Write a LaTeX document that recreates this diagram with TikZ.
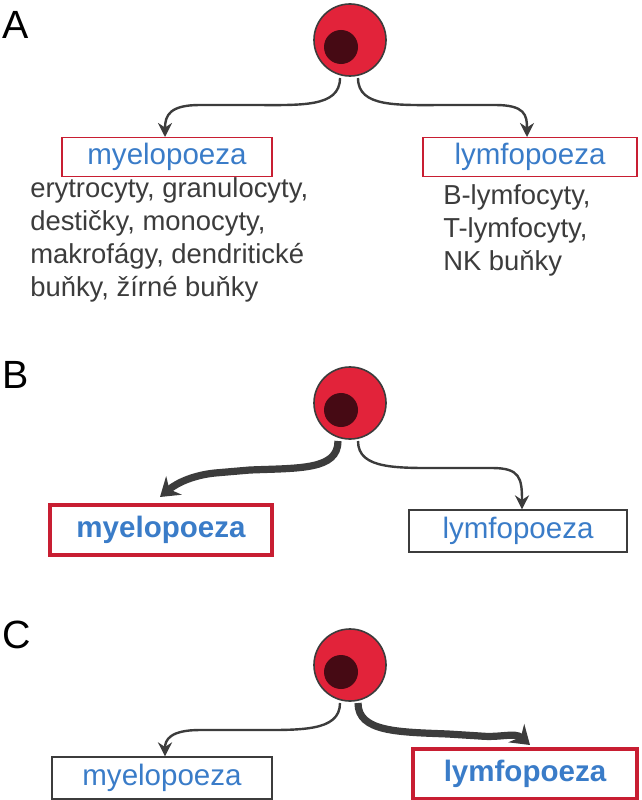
\documentclass[tikz,border=0pt]{standalone}
\usepackage{fontspec}
\setmainfont{Liberation Sans}
\usetikzlibrary{arrows.meta, calc}
\definecolor{cellred}{RGB}{226, 35, 58}
\definecolor{nucleus}{RGB}{70, 10, 20}
\definecolor{boxred}{RGB}{200, 30, 50}
\definecolor{textblue}{RGB}{58, 124, 200}
\definecolor{textgray}{RGB}{60, 60, 60}
\tikzstyle{thin arrow} = [line width=0.6mm, draw=textgray, -{Stealth[length=3.5mm,width=3.5mm]}]
\tikzstyle{thick arrow} = [line width=1.8mm, draw=textgray, -{Stealth[length=4.5mm,width=6mm]}]
\tikzstyle{plainbox} = [draw=textgray, line width=0.3mm, text=textblue, font=\fontsize{21}{24}\selectfont, minimum height=1.05cm, inner sep=4pt]
\tikzstyle{redbox} = [draw=boxred, line width=0.3mm, text=textblue, font=\fontsize{21}{24}\selectfont, minimum height=0.9cm, inner sep=4pt]
\tikzstyle{boldbox} = [draw=boxred, line width=1.2mm, text=textblue, font=\fontsize{21}{24}\selectfont\bfseries, minimum height=1.25cm, inner sep=5pt]
\tikzstyle{celltype} = [align=left, text=textgray, font=\fontsize{19.5}{23.5}\selectfont, anchor=north west, inner sep=0pt]
\tikzstyle{panel} = [font=\fontsize{28}{32}\selectfont, anchor=west, inner sep=0pt]
\newcommand{\stemcell}[2]{%
  \node (#2) at (#1) [circle, draw=textgray, line width=0.4mm, fill=cellred, minimum size=1.8cm] {};
  \node at ($(#1)+(-9,7)$) [circle, fill=nucleus, minimum size=0.85cm] {};
}
\begin{document}
\begin{tikzpicture}[x=0.025cm, y=-0.025cm]
        \useasboundingbox (0,0) rectangle (642,800);
        % Panel A
        \node at (2,25) [panel] {A};
        \stemcell{350,40}{cellA}
        \node (myA) at (167,157) [redbox, minimum width=5.25cm] {myelopoeza};
        \node (lyA) at (530,157) [redbox, minimum width=5.35cm] {lymfopoeza};
        \draw [thin arrow] (340,78) .. controls (340,108) and (300,105) .. (250,105)
            -- (200,105) .. controls (170,105) and (165,115) .. (myA.north -| 165,0);
        \draw [thin arrow] (358,78) .. controls (358,108) and (398,105) .. (448,105)
            -- (495,105) .. controls (525,105) and (527,115) .. (lyA.north -| 527,0);
        \node (listmy) at (30,177) [celltype] {erytrocyty, granulocyty,\\destičky, monocyty,\\makrofágy, dendritické\\buňky, žírné buňky};
        \node (listly) at (443,184) [celltype] {B-lymfocyty,\\T-lymfocyty,\\NK buňky};

        % Panel B
        \node at (2,375) [panel] {B};
        \stemcell{350,403}{cellB}
        \node (myB) at (161,530) [boldbox, minimum width=5.55cm] {myelopoeza};
        \node (lyB) at (518,531) [plainbox, minimum width=5.45cm] {lymfopoeza};
        \coordinate (tipB) at (160,497);
        \draw [thick arrow] (338,441) .. controls (338,470) and (300,468) .. (250,470)
            -- (215,473) .. controls (195,475) and (178,482) .. (tipB);
        \draw [thin arrow] (358,441) .. controls (358,470) and (398,468) .. (448,468)
            -- (492,468) .. controls (520,468) and (522,478) .. (lyB.north -| 522,0);

        % Panel C
        \node at (2,635) [panel] {C};
        \stemcell{350,665}{cellC}
        \node (myC) at (162,778) [plainbox, minimum width=5.5cm] {myelopoeza};
        \node (lyC) at (525,774) [boldbox, minimum width=5.6cm] {lymfopoeza};
        \coordinate (tipC) at (530,745);
        \draw [thin arrow] (340,703) .. controls (340,732) and (300,730) .. (250,730)
            -- (200,730) .. controls (170,730) and (165,740) .. (myC.north -| 165,0);
        \draw [thick arrow] (358,703) .. controls (358,732) and (398,732) .. (448,734)
            -- (480,736) .. controls (500,738) and (515,732) .. (tipC);
\end{tikzpicture}
\end{document}
